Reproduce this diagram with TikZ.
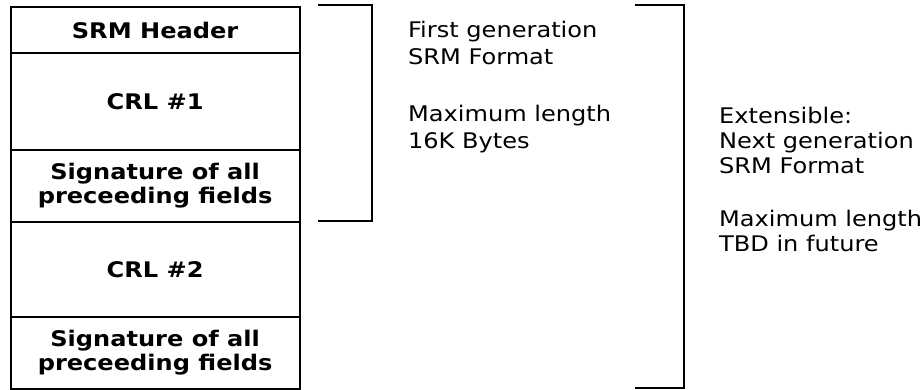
\documentclass[tikz,border=0pt]{standalone}
\usepackage{fontspec}
\setmainfont{DejaVu Sans}
\newcommand\sx[1]{\scalebox{1.12}[1]{#1}}
\begin{document}
\begin{tikzpicture}[x=1pt,y=-1pt,line width=2.2pt,
  field/.style={draw, minimum width=289pt, inner sep=0pt, anchor=north west,
    font=\bfseries\fontsize{21.5}{24}\selectfont, align=center},
  note/.style={font=\fontsize{21.5}{26}\selectfont, anchor=base west, inner sep=0pt},
  bracket/.style={draw, line width=2.2pt}]
\useasboundingbox[fill=white] (0,0) rectangle (923,390);
\node[field, minimum height=46pt] (hdr) at (9.5,6) {\sx{SRM Header}};
\node[field, minimum height=97pt] (crl1) at (9.5,52) {\sx{CRL \#1}};
\node[field, minimum height=72pt] (sig1) at (9.5,149) {\sx{Signature of all}\\\sx{preceeding fields}};
\node[field, minimum height=95pt] (crl2) at (9.5,221) {\sx{CRL \#2}};
\node[field, minimum height=72pt] (sig2) at (9.5,316) {\sx{Signature of all}\\\sx{preceeding fields}};
% first bracket
\coordinate (b1a) at (318,5);
\coordinate (b1b) at (372,5);
\coordinate (b1c) at (372,221);
\coordinate (b1d) at (318,221);
\draw[bracket] (b1a) -- (b1b) -- (b1c) -- (b1d);
% second bracket
\coordinate (b2a) at (635,5);
\coordinate (b2b) at (684,5);
\coordinate (b2c) at (684,388);
\coordinate (b2d) at (635,388);
\draw[bracket] (b2a) -- (b2b) -- (b2c) -- (b2d);
% first notes
\node[note] (l1) at (407,38) {\sx{First generation}};
\node[note] (l2) at (407,65) {\sx{SRM Format}};
\node[note] (l3) at (407,122) {\sx{Maximum length}};
\node[note] (l4) at (407,149) {\sx{16K Bytes}};
% second notes
\node[note] (r1) at (718,124) {\sx{Extensible:}};
\node[note] (r2) at (718,149) {\sx{Next generation}};
\node[note] (r3) at (718,174) {\sx{SRM Format}};
\node[note] (r4) at (718,226) {\sx{Maximum length}};
\node[note] (r5) at (718,251) {\sx{TBD in future}};
\end{tikzpicture}
\end{document}
